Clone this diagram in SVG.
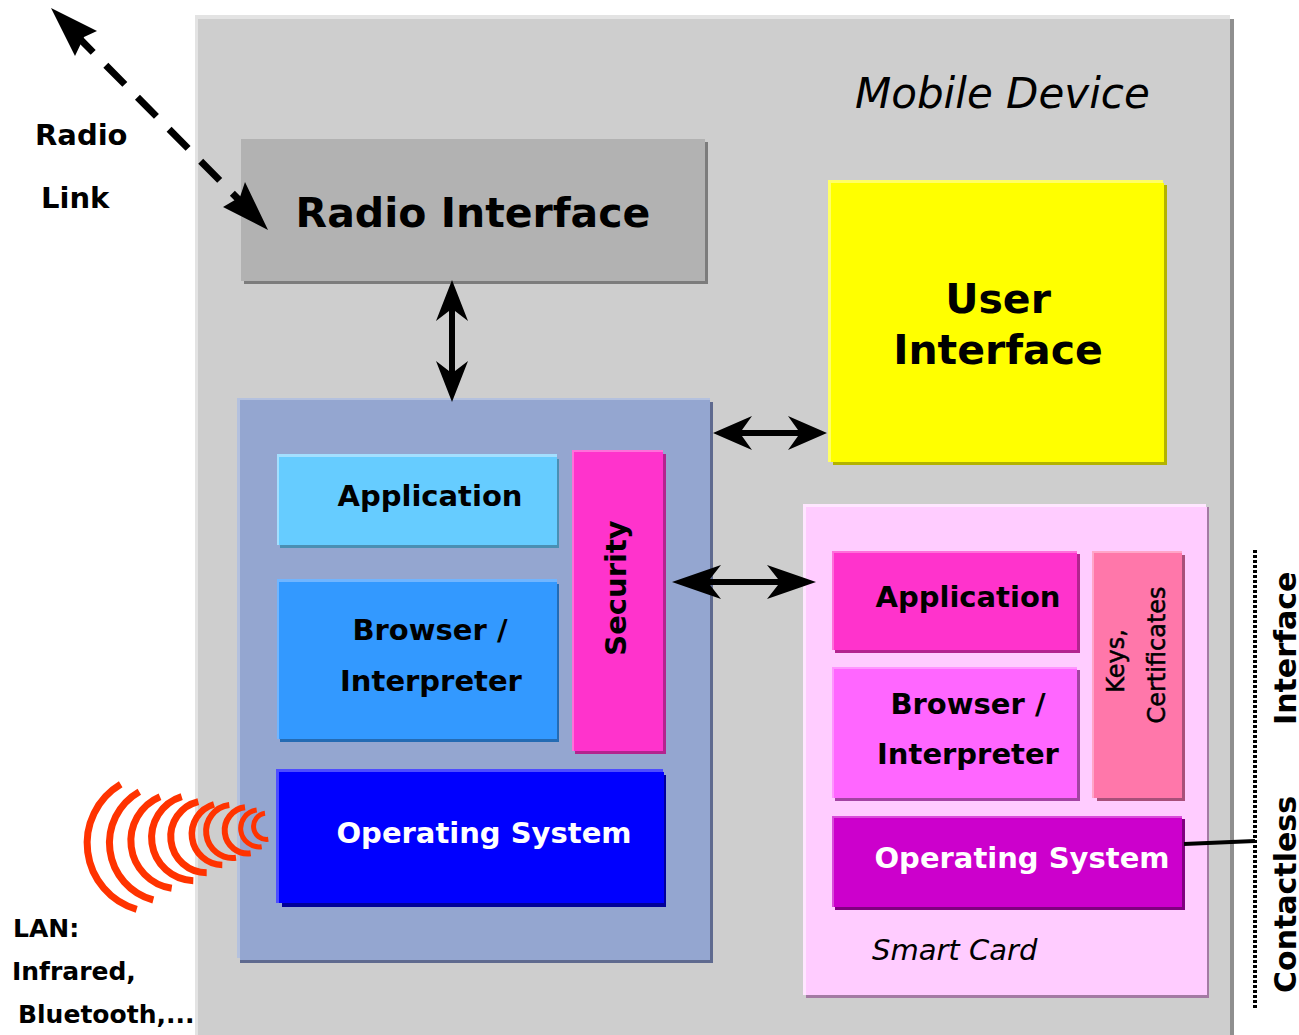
<svg xmlns="http://www.w3.org/2000/svg" width="1299" height="1035" viewBox="0 0 1299 1035">
<style>
text{font-family:"DejaVu Sans",Verdana,sans-serif;fill:#000;font-weight:bold}
.w{fill:#fff}
.i{font-weight:normal;font-style:italic}
.arc{fill:none;stroke:#ff3300}
.dbl{fill:#000}
</style>
<rect width="1299" height="1035" fill="#fff"/>
<g id="mobile-device">
<rect x="195" y="15" width="1035" height="1020" fill="#e3e3e3"/>
<rect x="1230" y="19" width="4" height="1016" fill="#8f8f8f"/>
<rect x="198" y="19" width="1032" height="1016" fill="#cecece"/>
<text class="i" x="855" y="108" font-size="42">Mobile Device</text>
</g>
<g id="radio-interface">
<rect x="244" y="142" width="464" height="142" fill="#7c7c7c"/>
<rect x="241" y="139" width="464" height="142" fill="#b2b2b2"/>
<text x="473" y="227" font-size="41" text-anchor="middle">Radio Interface</text>
</g>
<g id="user-interface">
<rect x="828" y="180" width="335" height="282" fill="#ffff66"/>
<rect x="833" y="185" width="334" height="280" fill="#b3b300"/>
<rect x="831" y="183" width="333" height="279" fill="#ffff00"/>
<text x="998" y="313" font-size="41" text-anchor="middle">User</text>
<text x="998" y="364" font-size="41" text-anchor="middle">Interface</text>
</g>
<g id="host-panel">
<rect x="237" y="398" width="473" height="560" fill="#b4c1de"/>
<rect x="240" y="402" width="473" height="561" fill="#5f6a8f"/>
<rect x="240" y="400" width="470" height="560" fill="#94a6d0"/>
</g>
<g id="host-application">
<rect x="277" y="454" width="280" height="91" fill="#a3dfff"/>
<rect x="280" y="459" width="279" height="89" fill="#4a8fb3"/>
<rect x="279" y="457" width="278" height="88" fill="#66ccff"/>
<text x="430" y="506" font-size="29" text-anchor="middle">Application</text>
</g>
<g id="host-browser">
<rect x="277" y="579" width="280" height="160" fill="#70b5ff"/>
<rect x="280" y="584" width="279" height="158" fill="#246bb3"/>
<rect x="279" y="582" width="278" height="157" fill="#3399ff"/>
<text x="430" y="640" font-size="29" text-anchor="middle">Browser /</text>
<text x="431" y="691" font-size="29" text-anchor="middle">Interpreter</text>
</g>
<g id="host-security">
<rect x="572" y="450" width="91" height="301" fill="#ff70da"/>
<rect x="575" y="454" width="91" height="300" fill="#b3248f"/>
<rect x="574" y="452" width="89" height="299" fill="#ff33cc"/>
<text transform="translate(626 588) rotate(-90)" font-size="29" text-anchor="middle">Security</text>
</g>
<g id="host-os">
<rect x="276" y="769" width="387" height="134" fill="#4d4dff"/>
<rect x="282" y="775" width="384" height="132" fill="#000099"/>
<rect x="279" y="772" width="385" height="131" fill="#0000ff"/>
<text class="w" x="484" y="843" font-size="29" text-anchor="middle">Operating System</text>
</g>
<g id="smart-card">
<rect x="803" y="504" width="403" height="491" fill="#ffe6ff"/>
<rect x="806" y="507" width="403" height="491" fill="#a37aa3"/>
<rect x="806" y="507" width="401" height="488" fill="#ffccff"/>
<text class="i" x="872" y="960" font-size="29">Smart Card</text>
</g>
<g id="card-application">
<rect x="832" y="551" width="245" height="99" fill="#ff70da"/>
<rect x="835" y="554" width="245" height="99" fill="#b3248f"/>
<rect x="834" y="553" width="243" height="97" fill="#ff33cc"/>
<text x="968" y="607" font-size="29" text-anchor="middle">Application</text>
</g>
<g id="card-browser">
<rect x="832" y="667" width="245" height="131" fill="#ff94ff"/>
<rect x="835" y="670" width="245" height="131" fill="#a344a3"/>
<rect x="834" y="669" width="243" height="129" fill="#ff66ff"/>
<text x="968" y="714" font-size="29" text-anchor="middle">Browser /</text>
<text x="968" y="764" font-size="29" text-anchor="middle">Interpreter</text>
</g>
<g id="card-keys">
<rect x="1092" y="551" width="90" height="247" fill="#ffa6c8"/>
<rect x="1097" y="555" width="88" height="246" fill="#a8507a"/>
<rect x="1094" y="553" width="88" height="245" fill="#ff77aa"/>
<text transform="translate(1124 661) rotate(-90)" font-size="24" font-weight="normal" text-anchor="middle" style="font-weight:normal" stroke="#000" stroke-width=".5">Keys,</text>
<text transform="translate(1165 655) rotate(-90)" font-size="24" text-anchor="middle" style="font-weight:normal" stroke="#000" stroke-width=".5">Certificates</text>
</g>
<g id="card-os">
<rect x="832" y="816" width="350" height="91" fill="#d94dd9"/>
<rect x="835" y="819" width="350" height="91" fill="#800080"/>
<rect x="834" y="818" width="348" height="89" fill="#cc00cc"/>
<text class="w" x="1022" y="868" font-size="29" text-anchor="middle">Operating System</text>
</g>
<g id="connectors">
<line x1="1184" y1="844" x2="1255" y2="841" stroke="#000" stroke-width="4"/>
<line x1="1255" y1="550" x2="1255" y2="1010" stroke="#000" stroke-width="4" stroke-dasharray="3 2"/>
<path class="dbl" d="M713 433L752 416L742 430H798L788 416L827 433L788 450L798 436H742L752 450Z"/>
<path class="dbl" d="M672 582L721 565L710 579H778L767 565L816 582L767 599L778 585H710L721 599Z"/>
<path class="dbl" d="M452 280L468 321L455 311V371L468 361L452 402L436 361L449 371V311L436 321Z"/>
<path class="dbl" d="M51 8L97 31L84 37L75 56Z"/>
<path class="dbl" d="M268 230L245 182L240 197L223 207Z"/>
<line x1="78" y1="37" x2="246" y2="207" stroke="#000" stroke-width="7" stroke-dasharray="27 18" stroke-dashoffset="5.4"/>
</g>
<g id="wireless">
<path class="arc" stroke-width="7" d="M120.7 784.3A68.7 68.7 0 0 0 136.7 909.3"/>
<path class="arc" stroke-width="7" d="M139.3 791.7A59 59 0 0 0 153.3 900"/>
<path class="arc" stroke-width="7" d="M160 796.7A48 48 0 0 0 171.7 888.3"/>
<path class="arc" stroke-width="7" d="M181.7 796.7A43 43 0 0 0 193.3 880.7"/>
<path class="arc" stroke-width="7" d="M198.3 801.7A36 36 0 0 0 206.7 872.7"/>
<path class="arc" stroke-width="6.5" d="M214 804.3A31 31 0 0 0 222.3 865"/>
<path class="arc" stroke-width="6" d="M229.3 805A26.5 26.5 0 0 0 236 857.7"/>
<path class="arc" stroke-width="6" d="M245 807.3A23 23 0 0 0 250.7 853.3"/>
<path class="arc" stroke-width="5" d="M256.7 810A18.5 18.5 0 0 0 261.7 846.7"/>
<path class="arc" stroke-width="5" d="M265 813.3A13 13 0 0 0 268.3 839.3"/>
</g>
<g id="labels">
<text x="35" y="145" font-size="29">Radio</text>
<text x="41" y="208" font-size="29">Link</text>
<text x="13" y="937" font-size="25">LAN:</text>
<text x="12" y="980" font-size="25">Infrared,</text>
<text x="18" y="1023" font-size="25">Bluetooth,...</text>
<text transform="translate(1296 725) rotate(-90)" font-size="30">Interface</text>
<text transform="translate(1296 993) rotate(-90)" font-size="30">Contactless</text>
</g>
</svg>
